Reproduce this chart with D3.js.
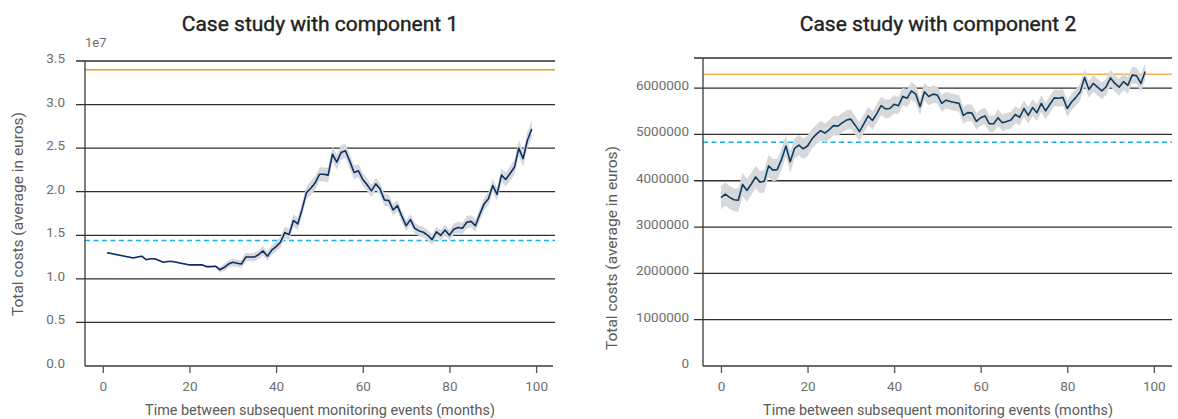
<!DOCTYPE html>
<html>
<head>
<meta charset="utf-8">
<script src="https://cdn.jsdelivr.net/npm/d3@7"></script>
<style>
  body { margin: 0; background: #fff; }
  svg text { font-family: Roboto, "DejaVu Sans", sans-serif; }
</style>
</head>
<body>
<div id="content"></div>
<script>
var Width = 1178;
var Height = 419;

// component 1 : months and mean costs (x 1e7 euros), half width of grey band
var monthsLeft = [1,2,3,4,5,6,7,8,9,10,11,12,13,14,15,16,17,18,19,20,21,22,23,24,25,26,27,28,29,30,
  31,32,33,34,35,36,37,38,39,40,41,42,43,44,45,46,47,48,49,50,51,52,53,54,55,56,57,58,59,60,
  61,62,63,64,65,66,67,68,69,70,71,72,73,74,75,76,77,78,79,80,81,82,83,84,85,86,87,88,89,90,
  91,92,93,94,95,96,97,98,99];
var costsLeft = [1.30,1.29,1.28,1.27,1.26,1.25,1.24,1.25,1.26,1.22,1.23,1.23,1.21,1.19,1.20,1.20,1.19,1.18,1.17,1.16,
  1.16,1.16,1.16,1.14,1.14,1.145,1.105,1.13,1.17,1.19,1.18,1.17,1.25,1.25,1.25,1.28,1.32,1.26,1.33,1.37,
  1.42,1.53,1.51,1.67,1.63,1.80,1.99,2.04,2.10,2.20,2.20,2.19,2.43,2.34,2.45,2.47,2.35,2.22,2.24,2.14,
  2.08,2.01,2.09,2.03,1.905,1.90,1.79,1.84,1.72,1.61,1.68,1.58,1.55,1.535,1.50,1.45,1.54,1.50,1.56,1.50,
  1.57,1.59,1.58,1.65,1.66,1.61,1.74,1.86,1.92,2.07,1.97,2.19,2.14,2.21,2.28,2.50,2.38,2.59,2.72];
var bandLeft = [0.01,0.01,0.01,0.01,0.01,0.01,0.01,0.01,0.01,0.01,0.01,0.01,0.01,0.01,0.01,0.01,0.01,0.01,0.01,0.01,
  0.01,0.01,0.01,0.01,0.01,0.01,0.035,0.04,0.04,0.045,0.04,0.045,0.05,0.045,0.05,0.05,0.055,0.05,0.055,0.06,
  0.06,0.065,0.065,0.07,0.07,0.075,0.075,0.08,0.08,0.08,0.08,0.085,0.085,0.085,0.085,0.08,0.08,0.08,0.075,0.075,
  0.075,0.07,0.07,0.07,0.07,0.07,0.065,0.065,0.065,0.065,0.06,0.06,0.06,0.06,0.06,0.06,0.06,0.06,0.06,0.06,
  0.065,0.065,0.065,0.07,0.07,0.07,0.07,0.075,0.075,0.075,0.08,0.08,0.08,0.085,0.085,0.09,0.09,0.095,0.1];
var orangeLeft = 3.4;
var cyanLeft = 1.44;
var ticksLeftY = [0.5,1.0,1.5,2.0,2.5,3.0,3.5];

// component 2 : months and mean costs (millions of euros), half width of grey band
var monthsRight = [0,1,2,3,4,5,6,7,8,9,10,11,12,13,14,15,16,17,18,19,20,21,22,23,24,25,26,27,28,29,
  30,31,32,33,34,35,36,37,38,39,40,41,42,43,44,45,46,47,48,49,50,51,52,53,54,55,56,57,58,59,
  60,61,62,63,64,65,66,67,68,69,70,71,72,73,74,75,76,77,78,79,80,81,82,83,84,85,86,87,88,89,
  90,91,92,93,94,95,96,97,98];
var costsRight = [3.635,3.71,3.64,3.59,3.58,3.92,3.79,3.93,4.08,3.97,3.99,4.32,4.23,4.24,4.46,4.75,4.41,4.70,4.77,4.69,
  4.75,4.90,5.00,5.08,5.03,5.10,5.19,5.18,5.25,5.31,5.33,5.20,5.06,5.23,5.40,5.30,5.45,5.62,5.55,5.56,
  5.65,5.62,5.82,5.78,5.94,5.87,5.60,5.92,5.82,5.87,5.85,5.67,5.74,5.71,5.69,5.67,5.41,5.47,5.46,5.28,
  5.36,5.40,5.23,5.23,5.36,5.25,5.28,5.31,5.43,5.37,5.56,5.41,5.58,5.47,5.67,5.51,5.65,5.79,5.78,5.80,
  5.56,5.70,5.80,5.92,6.23,5.97,6.10,6.02,5.94,6.03,6.22,6.10,6.02,6.14,6.06,6.28,6.27,6.10,6.36];
var bandRight = [0.25,0.25,0.25,0.25,0.25,0.25,0.25,0.24,0.24,0.24,0.24,0.24,0.24,0.23,0.23,0.23,0.23,0.22,0.22,0.22,
  0.22,0.21,0.21,0.21,0.21,0.21,0.21,0.21,0.21,0.21,0.21,0.2,0.2,0.2,0.2,0.2,0.2,0.2,0.2,0.2,
  0.2,0.19,0.19,0.19,0.19,0.19,0.19,0.19,0.19,0.19,0.19,0.18,0.18,0.18,0.18,0.18,0.18,0.18,0.18,0.18,
  0.18,0.18,0.18,0.18,0.18,0.18,0.18,0.18,0.18,0.18,0.18,0.18,0.18,0.18,0.18,0.18,0.18,0.18,0.18,0.18,
  0.18,0.18,0.18,0.18,0.18,0.18,0.18,0.18,0.18,0.18,0.18,0.18,0.18,0.18,0.18,0.18,0.18,0.18,0.18];
var orangeRight = 6.30;
var cyanRight = 4.83;
var ticksRightY = [1,2,3,4,5,6];

var ticksX = [0,20,40,60,80,100];

var svg = d3.select("#content").append("svg")
  .attr("width", Width)
  .attr("height", Height);

function drawChart(c) {
  var x = d3.scaleLinear().domain(c.xDomain).range([c.left, c.right]);
  var y = d3.scaleLinear().domain(c.yDomain).range([c.bottom, c.top]);
  var rows = c.months.map(function (m, i) {
    return { m: m, v: c.costs[i], b: c.band[i] };
  });
  var g = svg.append("g");

  // gridlines (also act as left ticks)
  g.selectAll(".grid")
    .data(c.yTicks)
    .enter()
    .append("line")
    .attr("x1", c.left - 9)
    .attr("x2", c.gridEnd)
    .attr("y1", function (d) { return y(d); })
    .attr("y2", function (d) { return y(d); })
    .attr("stroke", "#2e2e2e")
    .attr("stroke-width", 1.3);

  // y tick labels
  g.selectAll(".ylab")
    .data([0].concat(c.yTicks.filter(function (d) { return d <= c.yMaxLabel; })))
    .enter()
    .append("text")
    .attr("x", c.labelRight)
    .attr("y", function (d) { return y(d) - 3; })
    .attr("text-anchor", "end")
    .attr("dominant-baseline", "central")
    .attr("fill", "#6e6e6e")
    .style("font-size", "13.5px")
    .text(c.yFormat);

  // reference lines
  g.append("line")
    .attr("x1", c.left).attr("x2", c.gridEnd)
    .attr("y1", y(c.orange)).attr("y2", y(c.orange))
    .attr("stroke", c.orangeColor).attr("stroke-width", 1.5);
  g.append("line")
    .attr("x1", c.left).attr("x2", c.gridEnd)
    .attr("y1", y(c.cyan)).attr("y2", y(c.cyan))
    .attr("stroke", "#19aee8").attr("stroke-width", 1.4)
    .attr("stroke-dasharray", "5,3.5");

  // grey band
  var area = d3.area()
    .x(function (d) { return x(d.m); })
    .y0(function (d) { return y(d.v - d.b); })
    .y1(function (d) { return y(d.v + d.b); });
  g.append("path").datum(rows)
    .attr("d", area)
    .attr("fill", "#d6d8db");

  // mean line
  var line = d3.line()
    .x(function (d) { return x(d.m); })
    .y(function (d) { return y(d.v); });
  g.append("path").datum(rows)
    .attr("d", line)
    .attr("fill", "none")
    .attr("stroke", c.lineColor)
    .attr("stroke-width", 1.6)
    .attr("stroke-linejoin", "round");

  // spines
  g.append("line")
    .attr("x1", c.left).attr("x2", c.left)
    .attr("y1", c.top).attr("y2", c.bottom)
    .attr("stroke", "#3a3a3a").attr("stroke-width", 1.3);

  var xAxis = d3.axisBottom(x).tickValues(ticksX).tickSizeOuter(0).tickSize(7).tickPadding(8);
  var ax = g.append("g")
    .attr("class", "axis")
    .attr("transform", "translate(0," + c.bottom + ")")
    .call(xAxis);
  ax.select(".domain").attr("stroke", "#3a3a3a").attr("stroke-width", 1.3)
    .attr("d", "M" + c.left + ",0H" + (c.right));
  ax.selectAll(".tick line").attr("stroke", "#555").attr("stroke-width", 1.3);
  ax.selectAll(".tick text")
    .attr("fill", "#6e6e6e")
    .style("font-size", "13.5px")
    .style("font-family", "Roboto, sans-serif");

  // titles and labels
  svg.append("text")
    .attr("x", c.titleX).attr("y", 31)
    .attr("text-anchor", "middle")
    .attr("fill", "#222")
    .style("font-size", "21px")
    .style("font-weight", 400)
    .style("stroke", "#222")
    .style("stroke-width", 0.4)
    .text(c.title);
  svg.append("text")
    .attr("x", c.titleX).attr("y", 415)
    .attr("text-anchor", "middle")
    .attr("fill", "#5a5a5a")
    .style("font-size", "14.4px")
    .text("Time between subsequent monitoring events (months)");
  svg.append("text")
    .attr("transform", "translate(" + c.ylabX + "," + c.ylabY + ") rotate(-90)")
    .attr("text-anchor", "middle")
    .attr("dominant-baseline", "central")
    .attr("fill", "#5a5a5a")
    .style("font-size", "15.5px")
    .text("Total costs (average in euros)");
  if (c.exponent) {
    svg.append("text")
      .attr("x", c.left).attr("y", 47)
      .attr("fill", "#6e6e6e")
      .style("font-size", "13px")
      .text(c.exponent);
  }
}

drawChart({
  months: monthsLeft, costs: costsLeft, band: bandLeft,
  xDomain: [-4.1, 103.9], yDomain: [0, 3.5],
  left: 85, right: 553, gridEnd: 555, top: 61, bottom: 366,
  yTicks: ticksLeftY, yMaxLabel: 3.5,
  yFormat: function (d) { return d3.format(".1f")(d); },
  labelRight: 65,
  orange: orangeLeft, cyan: cyanLeft, orangeColor: "#f39a1b",
  lineColor: "#0b2f66",
  title: "Case study with component 1", titleX: 320,
  ylabX: 18, ylabY: 214, exponent: "1e7"
});

drawChart({
  months: monthsRight, costs: costsRight, band: bandRight,
  xDomain: [-4.15, 104.2], yDomain: [0, 6.65],
  left: 703, right: 1172, gridEnd: 1172, top: 58, bottom: 366,
  yTicks: ticksRightY.concat([6.65]), yMaxLabel: 6,
  yFormat: function (d) { return d3.format("d")(d * 1000000); },
  labelRight: 689,
  orange: orangeRight, cyan: cyanRight, orangeColor: "#f6b14e",
  lineColor: "#0d3e5f",
  title: "Case study with component 2", titleX: 938,
  ylabX: 612, ylabY: 248, exponent: null
});
</script>
</body>
</html>
